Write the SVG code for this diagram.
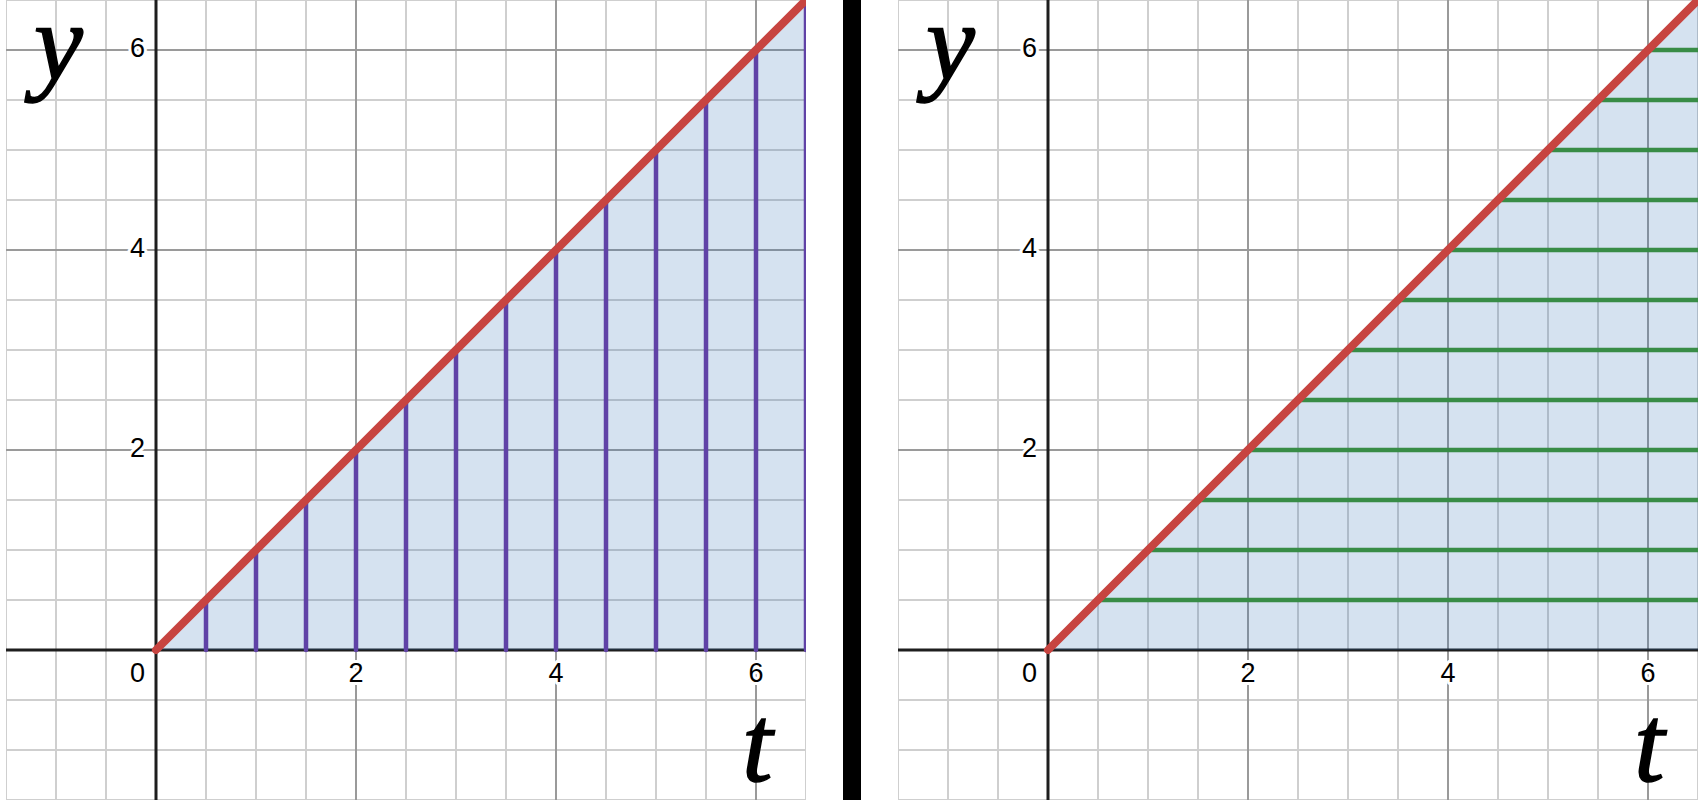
<svg xmlns="http://www.w3.org/2000/svg" xmlns:xlink="http://www.w3.org/1999/xlink" width="1700" height="800" viewBox="0 0 1700 800">
<style>
.minor{stroke:#cfcfcf;stroke-width:2;fill:none}
.major{stroke:#9a9a9a;stroke-width:2;fill:none}
.axis{stroke:#1e1e1e;stroke-width:3;fill:none}
.shade{fill:#2d70b3;fill-opacity:0.2}
.red{stroke:#c74440;stroke-width:8;stroke-linecap:round;fill:none}
.purple{stroke:#6042a6;stroke-width:4.5;stroke-linecap:round;fill:none}
.green{stroke:#388c46;stroke-width:4.5;stroke-linecap:round;fill:none}
.num{font-family:"Liberation Sans",Arial,sans-serif;font-size:27px;fill:#000;stroke:#fff;stroke-width:6;paint-order:stroke;stroke-linejoin:round}
.big{font-family:"Liberation Serif","Times New Roman",serif;font-style:italic;font-size:110px;fill:#000;stroke:#000;stroke-width:1.5}
</style>
<defs>
<clipPath id="panelClip" clipPathUnits="userSpaceOnUse"><rect x="-150" y="-650" width="800" height="800"/></clipPath>
<g id="grid">
<path class="minor" d="M-150 -650V150M-100 -650V150M-50 -650V150M50 -650V150M100 -650V150M150 -650V150M250 -650V150M300 -650V150M350 -650V150M450 -650V150M500 -650V150M550 -650V150M650 -650V150M-150 150H650M-150 100H650M-150 50H650M-150 -50H650M-150 -100H650M-150 -150H650M-150 -250H650M-150 -300H650M-150 -350H650M-150 -450H650M-150 -500H650M-150 -550H650M-150 -650H650"/>
<path class="major" d="M200 -650V150M400 -650V150M600 -650V150M-150 -200H650M-150 -400H650M-150 -600H650"/>
<path class="axis" d="M-150 0H650M0 -650V150"/>
</g>
</defs>
<rect x="0" y="0" width="1700" height="800" fill="#fff"/>

<g id="left-panel" transform="translate(156,650)">
<g clip-path="url(#panelClip)">
<use xlink:href="#grid" href="#grid"/>
<polygon class="shade" points="0,0 650,-650 650,0"/>
<g id="left-connectors">
<path class="purple" d="M50 0V-50M100 0V-100M150 0V-150M200 0V-200M250 0V-250M300 0V-300M350 0V-350M400 0V-400M450 0V-450M500 0V-500M550 0V-550M600 0V-600M650 0V-650"/>
<path class="red" d="M0 0L660 -660"/>
</g>
</g>
<g id="left-labels">
<text class="num" x="-11" y="-593" text-anchor="end">6</text>
<text class="num" x="-11" y="-393" text-anchor="end">4</text>
<text class="num" x="-11" y="-193" text-anchor="end">2</text>
<text class="num" x="-11" y="32" text-anchor="end">0</text>
<text class="num" x="200" y="32" text-anchor="middle">2</text>
<text class="num" x="400" y="32" text-anchor="middle">4</text>
<text class="num" x="600" y="32" text-anchor="middle">6</text>
<text class="big" x="-122" y="-570">y</text>
<text class="big" x="586" y="131">t</text>
</g>
</g>

<rect id="divider" x="843" y="0" width="18" height="800" fill="#000"/>

<g id="right-panel" transform="translate(1048,650)">
<g clip-path="url(#panelClip)">
<use xlink:href="#grid" href="#grid"/>
<polygon class="shade" points="0,0 650,-650 650,0"/>
<g id="right-connectors">
<path class="green" d="M50 -50H660M100 -100H660M150 -150H660M200 -200H660M250 -250H660M300 -300H660M350 -350H660M400 -400H660M450 -450H660M500 -500H660M550 -550H660M600 -600H660M650 -650H660"/>
<path class="red" d="M0 0L660 -660"/>
</g>
</g>
<g id="right-labels">
<text class="num" x="-11" y="-593" text-anchor="end">6</text>
<text class="num" x="-11" y="-393" text-anchor="end">4</text>
<text class="num" x="-11" y="-193" text-anchor="end">2</text>
<text class="num" x="-11" y="32" text-anchor="end">0</text>
<text class="num" x="200" y="32" text-anchor="middle">2</text>
<text class="num" x="400" y="32" text-anchor="middle">4</text>
<text class="num" x="600" y="32" text-anchor="middle">6</text>
<text class="big" x="-122" y="-570">y</text>
<text class="big" x="586" y="131">t</text>
</g>
</g>
</svg>
